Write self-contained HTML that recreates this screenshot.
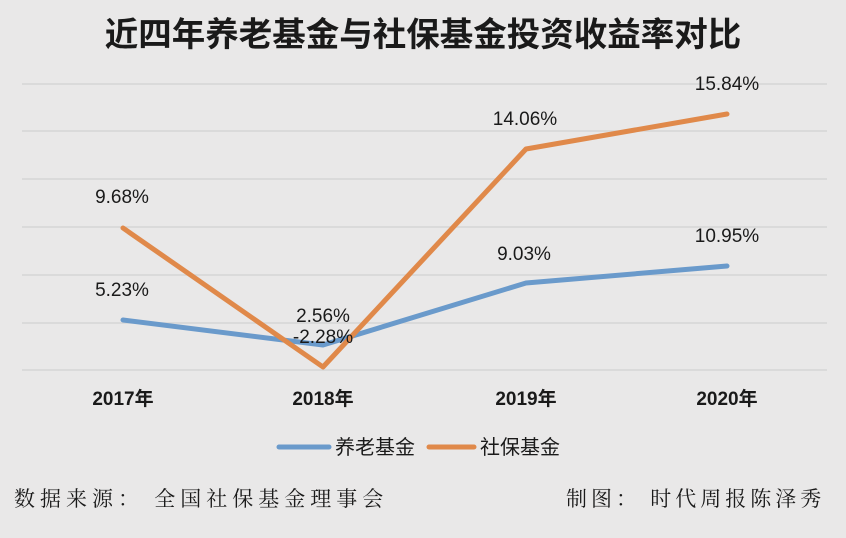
<!DOCTYPE html>
<html><head><meta charset="utf-8"><style>
html,body{margin:0;padding:0;background:#e9e8e8;}
svg{display:block}
</style></head><body>
<svg width="846" height="538" viewBox="0 0 846 538" xmlns="http://www.w3.org/2000/svg">
<rect width="846" height="538" fill="#e9e8e8"/>
<text x="423" y="46" text-anchor="middle" font-family="Liberation Sans, Noto Sans CJK SC, sans-serif" font-size="33.5" font-weight="bold" fill="#1a1a1a">近四年养老基金与社保基金投资收益率对比</text>
<g stroke="#d6d5d5" stroke-width="1.5">
<line x1="22" y1="84" x2="827" y2="84"/>
<line x1="22" y1="131" x2="827" y2="131"/>
<line x1="22" y1="179" x2="827" y2="179"/>
<line x1="22" y1="227" x2="827" y2="227"/>
<line x1="22" y1="275" x2="827" y2="275"/>
<line x1="22" y1="323" x2="827" y2="323"/>
<line x1="22" y1="370" x2="827" y2="370"/>
</g>
<polyline points="123,320 323,345 526,283 727,266" fill="none" stroke="#6a9acb" stroke-width="5" stroke-linecap="round" stroke-linejoin="round"/>
<polyline points="123,228 323,367 526,149 727,114" fill="none" stroke="#e0894a" stroke-width="5" stroke-linecap="round" stroke-linejoin="round"/>
<g font-family="Liberation Sans, sans-serif" font-size="19" fill="#1a1a1a" text-anchor="middle">
<text x="122" y="203">9.68%</text>
<text x="122" y="296">5.23%</text>
<text x="323" y="322">2.56%</text>
<text x="323" y="343">-2.28%</text>
<text x="525" y="125">14.06%</text>
<text x="524" y="260">9.03%</text>
<text x="727" y="90">15.84%</text>
<text x="727" y="242">10.95%</text>
</g>
<g font-family="Liberation Sans, Noto Sans CJK SC, sans-serif" font-size="19" font-weight="bold" fill="#1a1a1a" text-anchor="middle">
<text x="123" y="405">2017年</text>
<text x="323" y="405">2018年</text>
<text x="526" y="405">2019年</text>
<text x="727" y="405">2020年</text>
</g>
<line x1="279" y1="447" x2="329" y2="447" stroke="#6a9acb" stroke-width="5" stroke-linecap="round"/>
<line x1="429" y1="447" x2="474" y2="447" stroke="#e0894a" stroke-width="5" stroke-linecap="round"/>
<g font-family="Liberation Sans, Noto Sans CJK SC, sans-serif" font-size="20" fill="#1a1a1a">
<text x="335" y="454">养老基金</text>
<text x="480" y="454">社保基金</text>
</g>
<g font-family="Liberation Serif, Noto Serif CJK SC, serif" font-size="21" fill="#1a1a1a">
<text x="14" y="506" letter-spacing="5">数据来源： 全国社保基金理事会</text>
<text x="566" y="506" letter-spacing="4">制图： 时代周报陈泽秀</text>
</g>
</svg>
</body></html>
